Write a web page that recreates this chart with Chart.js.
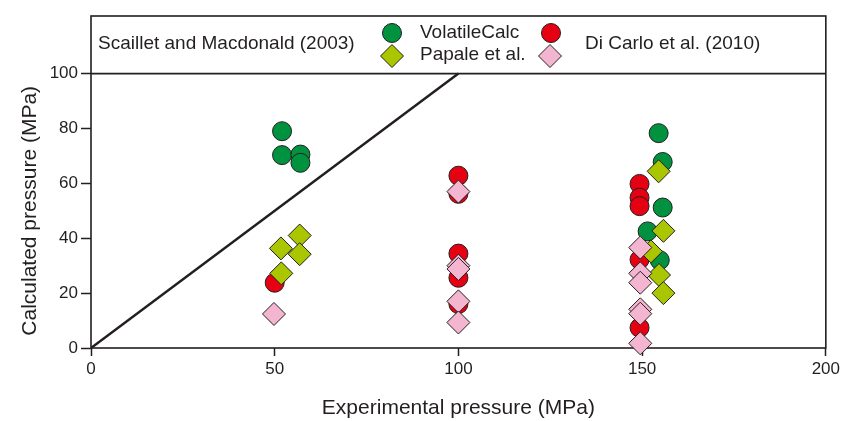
<!DOCTYPE html>
<html>
<head>
<meta charset="utf-8">
<script src="https://cdn.jsdelivr.net/npm/chart.js@4.4.0/dist/chart.umd.min.js"></script>
<style>
  html, body { margin: 0; padding: 0; background: #fff; }
</style>
</head>
<body>
<canvas id="pressureChart" width="843" height="421"></canvas>
<script>
// Scaillet and Macdonald (2003) - VolatileCalc
const scVolX = [52, 52, 57, 57, 154.5, 155.6, 155.6, 151.5, 154.8];
const scVolY = [79, 70.3, 70.5, 67.5, 78.3, 67.8, 51.2, 42.5, 32];
// Scaillet and Macdonald (2003) - Papale et al.
const scPapX = [56.8, 51.7, 56.8, 51.8, 154.5, 155.8, 152.4, 154.6, 155.8];
const scPapY = [41, 36.3, 34.2, 27.2, 64.4, 42.7, 35.2, 26.6, 20];
// Di Carlo et al. (2010) - VolatileCalc
const dcVolX = [50, 100, 100, 100, 100, 100, 149.3, 149.3, 149.3, 149.3, 149.3];
const dcVolY = [23.8, 62.8, 56.2, 34.4, 25.6, 16, 59.8, 54.8, 51.7, 32.2, 7.4];
// Di Carlo et al. (2010) - Papale et al.
const dcPapX = [49.8, 100, 100, 100, 100, 100, 149.5, 149.5, 149.5, 149.5, 149.5, 149.5];
const dcPapY = [12.4, 57, 30, 28.8, 17, 9.3, 36.6, 27.2, 23.8, 14.1, 12.5, 1.7];

// 1:1 reference line
const equalX = [0, 100];
const equalY = [0, 100];

const xTicks = [0, 50, 100, 150, 200];
const yTicks = [0, 20, 40, 60, 80, 100];
const legendFloor = 100;

const INK = '#231f20';
const GREEN = '#00923f';
const LIME = '#a9c600';
const RED = '#e50012';
const PINK = '#f4b5d0';
const FONT = "'Liberation Sans', Arial, sans-serif";

function toPoints(xs, ys) {
    return xs.map(function(x, i) { return { x: x, y: ys[i] }; });
}

function markerSet(label, xs, ys, color, style, radius) {
    return {
        label: label,
        data: toPoints(xs, ys),
        backgroundColor: color,
        borderColor: INK,
        borderWidth: 1,
        pointStyle: style,
        pointRadius: radius,
        pointHoverRadius: radius,
        clip: false
    };
}

// Small helpers for the legend markers
function drawCircle(ctx, x, y, r, color) {
    ctx.beginPath();
    ctx.arc(x, y, r, 0, Math.PI * 2);
    ctx.fillStyle = color;
    ctx.fill();
    ctx.lineWidth = 1;
    ctx.strokeStyle = INK;
    ctx.stroke();
}

function drawDiamond(ctx, x, y, r, color) {
    ctx.beginPath();
    ctx.moveTo(x - r, y);
    ctx.lineTo(x, y - r);
    ctx.lineTo(x + r, y);
    ctx.lineTo(x, y + r);
    ctx.closePath();
    ctx.fillStyle = color;
    ctx.fill();
    ctx.lineWidth = 1;
    ctx.strokeStyle = INK;
    ctx.stroke();
}

const decorations = {
    id: 'decorations',
    beforeDatasetsDraw: function(chart) {
        const ctx = chart.ctx;
        const a = chart.chartArea;
        const yl = chart.scales.y.getPixelForValue(legendFloor);
        ctx.save();
        ctx.strokeStyle = INK;
        ctx.lineWidth = 1.6;
        ctx.strokeRect(a.left, a.top, a.right - a.left, a.bottom - a.top);
        ctx.beginPath();
        ctx.moveTo(a.left, yl);
        ctx.lineTo(a.right, yl);
        ctx.stroke();
        ctx.restore();
    },
    afterDraw: function(chart) {
        const ctx = chart.ctx;
        const a = chart.chartArea;
        const y = chart.scales.y;
        ctx.save();
        ctx.fillStyle = INK;
        ctx.textBaseline = 'middle';

        // Legend inside the top band
        ctx.font = '19px ' + FONT;
        ctx.textAlign = 'left';
        ctx.fillText('Scaillet and Macdonald (2003)', a.left + 7, a.top + 28);
        drawCircle(ctx, 392, a.top + 17, 9.5, GREEN);
        drawDiamond(ctx, 392, a.top + 40, 11.5, LIME);
        ctx.fillStyle = INK;
        ctx.fillText('VolatileCalc', 420, a.top + 17);
        ctx.fillText('Papale et al.', 420, a.top + 39);
        drawCircle(ctx, 551, a.top + 17, 9.5, RED);
        drawDiamond(ctx, 550, a.top + 40, 11.5, PINK);
        ctx.fillStyle = INK;
        ctx.fillText('Di Carlo et al. (2010)', 585, a.top + 28);

        // Axis titles
        ctx.font = '21px ' + FONT;
        ctx.textAlign = 'center';
        ctx.fillText('Experimental pressure (MPa)', (a.left + a.right) / 2, 408);
        ctx.translate(30, y.getPixelForValue(50));
        ctx.rotate(-Math.PI / 2);
        ctx.fillText('Calculated pressure (MPa)', 0, 0);
        ctx.restore();
    }
};

const ctx = document.getElementById('pressureChart').getContext('2d');
new Chart(ctx, {
    type: 'scatter',
    data: {
        datasets: [
            markerSet('Di Carlo et al. (2010) Papale et al.', dcPapX, dcPapY, PINK, 'rectRot', 11.5),
            markerSet('Scaillet and Macdonald (2003) Papale et al.', scPapX, scPapY, LIME, 'rectRot', 11.5),
            markerSet('Di Carlo et al. (2010) VolatileCalc', dcVolX, dcVolY, RED, 'circle', 9.5),
            markerSet('Scaillet and Macdonald (2003) VolatileCalc', scVolX, scVolY, GREEN, 'circle', 9.5),
            {
                type: 'line',
                label: '1:1',
                data: toPoints(equalX, equalY),
                borderColor: INK,
                borderWidth: 2.5,
                pointRadius: 0,
                showLine: true,
                fill: false
            }
        ]
    },
    options: {
        responsive: false,
        animation: false,
        layout: { padding: { top: 16, right: 14, left: 0, bottom: 0 } },
        plugins: {
            legend: { display: false },
            tooltip: { enabled: false }
        },
        scales: {
            x: {
                type: 'linear',
                min: 0,
                max: 200,
                afterBuildTicks: function(s) {
                    s.ticks = xTicks.map(function(v) { return { value: v }; });
                },
                afterFit: function(s) { s.height = 73; },
                border: { display: false },
                grid: {
                    drawOnChartArea: false,
                    drawTicks: true,
                    tickLength: 8,
                    tickWidth: 1.5,
                    tickColor: INK
                },
                ticks: {
                    color: INK,
                    padding: 3,
                    maxRotation: 0,
                    font: { family: FONT, size: 17 }
                }
            },
            y: {
                type: 'linear',
                min: 0,
                max: 121,
                afterBuildTicks: function(s) {
                    s.ticks = yTicks.map(function(v) { return { value: v }; });
                },
                afterFit: function(s) { s.width = 91; },
                border: { display: false },
                grid: {
                    drawOnChartArea: false,
                    drawTicks: true,
                    tickLength: 10,
                    tickWidth: 1.5,
                    tickColor: INK
                },
                ticks: {
                    color: INK,
                    padding: 3,
                    font: { family: FONT, size: 17 }
                }
            }
        }
    },
    plugins: [decorations]
});
</script>
</body>
</html>
